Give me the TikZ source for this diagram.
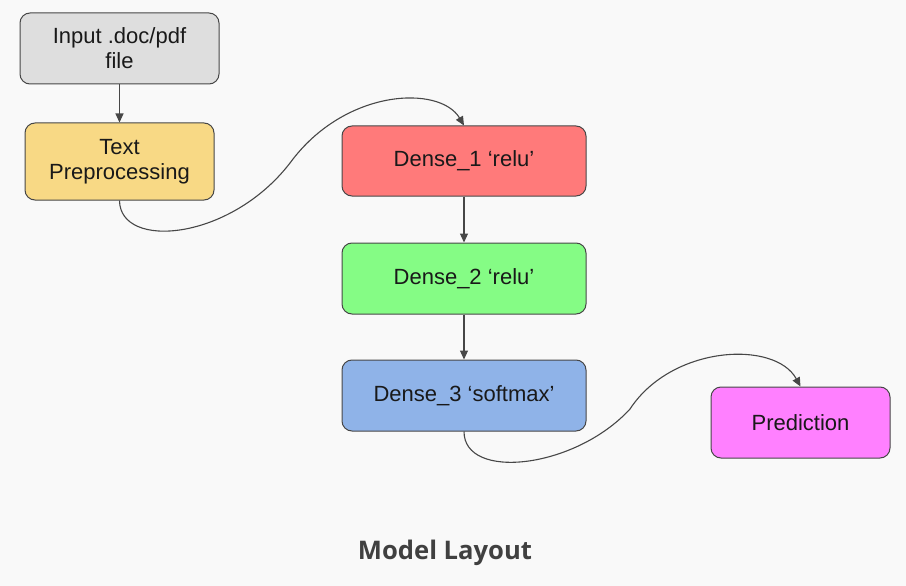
\documentclass[tikz,border=0pt]{standalone}
\usepackage{fontspec}
\setmainfont{Liberation Sans}
\newfontfamily\titlefont{Open Sans}
\usetikzlibrary{arrows.meta}
\definecolor{bg}{HTML}{F9F9F9}
\definecolor{edge}{HTML}{474747}
\definecolor{cinput}{HTML}{DEDEDE}
\definecolor{cprep}{HTML}{F8D985}
\definecolor{cdone}{HTML}{FF7A7A}
\definecolor{cdtwo}{HTML}{85FC85}
\definecolor{cdthree}{HTML}{8FB3E8}
\definecolor{cpred}{HTML}{FF80FF}
\definecolor{ctitle}{HTML}{404040}
\tikzset{
  box/.style={draw=edge, line width=1pt, rounded corners=10pt, align=center,
    font=\fontsize{22}{25}\selectfont, text=black!90, inner sep=0pt},
  conn/.style={draw=edge, line width=1.1pt, -{Triangle[length=9pt,width=8pt]}}
}
\begin{document}
\begin{tikzpicture}[x=1pt,y=-1pt]
\fill[bg] (0,0) rectangle (906,586);
\useasboundingbox (0,0) rectangle (906,586);
\node[box, fill=cinput, minimum width=199pt, minimum height=71pt] (inp) at (119.5,48.5) {Input .doc/pdf\\file};
\node[box, fill=cprep, minimum width=189pt, minimum height=77pt] (prep) at (119.5,161.5) {Text\\Preprocessing};
\node[box, fill=cdone, minimum width=244pt, minimum height=70pt] (d1) at (464,161) {Dense\_1 ‘relu’};
\node[box, fill=cdtwo, minimum width=244pt, minimum height=71pt] (d2) at (464,278.5) {Dense\_2 ‘relu’};
\node[box, fill=cdthree, minimum width=244pt, minimum height=71pt] (d3) at (464,395.5) {Dense\_3 ‘softmax’};
\node[box, fill=cpred, minimum width=179pt, minimum height=71pt] (pred) at (800.5,422.5) {Prediction};
\node[font=\titlefont\bfseries\fontsize{25.6}{30}\selectfont, text=ctitle] (title) at (445,553) {Model Layout};
\coordinate (m1) at (290,163);
\coordinate (m2) at (630,409);
\draw[conn] (inp.south) -- (prep.north);
\draw[conn] (d1.south) -- (d2.north);
\draw[conn] (d2.south) -- (d3.north);
\draw[conn] (prep.south) .. controls (120,250) and (230,241) .. (m1)
  .. controls (345,88) and (440,85) .. (d1.north);
\draw[conn] (d3.south) .. controls (464,481) and (575,469) .. (m2)
  .. controls (672,345) and (775,340) .. (pred.north);
\end{tikzpicture}
\end{document}
